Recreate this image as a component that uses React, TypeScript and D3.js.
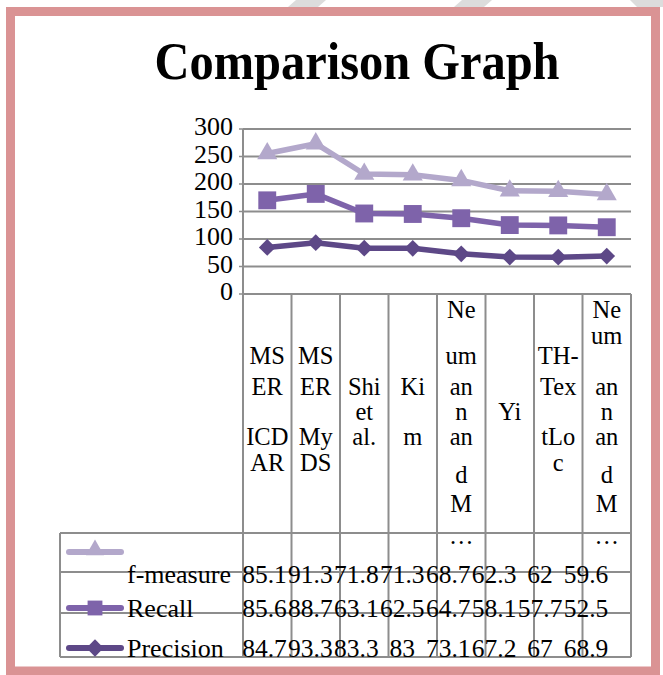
import React from "react";
import * as d3 from "d3";

// ---- data ----
const categories = ["MSER ICDAR", "MSER MyDS", "Shi et al.", "Kim", "Neumann and M…", "Yi", "TH-TextLoc", "Neumann and M…"];
const categoryLabelLines = [
  ["MS", "ER", "ICD", "AR"],
  ["MS", "ER", "My", "DS"],
  ["Shi", "et", "al."],
  ["Ki", "m"],
  ["Ne", "um", "an", "n", "an", "d", "M", "…"],
  ["Yi"],
  ["TH-", "Tex", "tLo", "c"],
  ["Ne", "um", "an", "n", "an", "d", "M", "…"],
];
const precision = [84.7, 93.3, 83.3, 83, 73.1, 67.2, 67, 68.9];
const recall = [85.6, 88.7, 63.1, 62.5, 64.7, 58.1, 57.7, 52.5];
const fmeasure = [85.1, 91.3, 71.8, 71.3, 68.7, 62.3, 62, 59.6];
const yTicks = [0, 50, 100, 150, 200, 250, 300];
const title = "Comparison Graph";

// ---- layout (not data) ----
const labelSlotBaselines = [318, 344, 364, 395, 420, 445, 471, 483, 512, 544];
const labelLineSlots = [
  [2, 3, 5, 6],
  [2, 3, 5, 6],
  [3, 4, 5],
  [3, 5],
  [0, 2, 3, 4, 5, 7, 8, 9],
  [4],
  [2, 3, 5, 6],
  [0, 1, 3, 4, 5, 7, 8, 9],
];

const W = 663;
const H = 675;
const FONT = "'Liberation Serif', 'Times New Roman', serif";
const GRID = "#8d8d8d";

const seriesDefs = [
  { key: "fmeasure", name: "f-measure", values: fmeasure, color: "#b3a8cb", symbol: "triangle", baseline: 583, legendY: 552 },
  { key: "recall", name: "Recall", values: recall, color: "#7e63aa", symbol: "square", baseline: 617, legendY: 608 },
  { key: "precision", name: "Precision", values: precision, color: "#5d4887", symbol: "diamond", baseline: 657, legendY: 648 },
];

function markerPath(kind: string, size: number) {
  if (kind === "triangle") return d3.symbol().type(d3.symbolTriangle).size(size)() as string;
  return d3.symbol().type(d3.symbolSquare).size(size)() as string;
}

export default function App() {
  const plotLeft = 243;
  const plotRight = 631;
  const y = d3.scaleLinear().domain([0, 300]).range([294, 129]);
  const idx = d3.range(categories.length);
  const x = d3.scaleBand<number>().domain(idx).range([plotLeft, plotRight]).padding(0);
  const cx = (i: number) => (x(i) as number) + x.bandwidth() / 2;
  const textX = d3.scaleBand<number>().domain(idx).range([241.5, 609]).padding(0);
  const tcx = (i: number) => (textX(i) as number) + textX.bandwidth() / 2;

  const table = idx.map((i) => ({ i, precision: precision[i], recall: recall[i], fmeasure: fmeasure[i] }));
  const stack = d3.stack<any>().keys(["precision", "recall", "fmeasure"]);
  const stacked = stack(table);
  const stackByKey: Record<string, any> = {};
  stacked.forEach((s) => (stackByKey[s.key] = s));

  const line = d3
    .line<any>()
    .x((d) => cx(d.data.i))
    .y((d) => y(d[1]));

  const tableTop = 533;
  const rowLines = [533, 572, 613, 657];
  const tableLeft = 60;
  const tableBottom = 657;

  const drawOrder = ["precision", "recall", "fmeasure"];

  return (
    <svg width={W} height={H} style={{ position: "absolute", left: 0, top: 0, background: "#fff" }} fontFamily={FONT}>
      <rect x={0} y={0} width={W} height={H} fill="#fff" />
      {/* faint watermark at top */}
      <polygon points="296,0 326,0 318,7 288,7" fill="#dcdcdc" />
      <polygon points="462,0 492,0 484,7 454,7" fill="#dcdcdc" />
      <polygon points="630,0 663,0 663,7 637,7" fill="#dcdcdc" />
      {/* pink frame */}
      <rect x={10.5} y={11.5} width={645} height={659.5} fill="none" stroke="#da9394" strokeWidth={9} />

      {/* title */}
      <text x={357} y={79} textAnchor="middle" fontSize={52} fontWeight="bold" textLength={405} lengthAdjust="spacingAndGlyphs" fill="#000">
        {title}
      </text>

      {/* gridlines */}
      {yTicks.map((t) => (
        <line key={t} x1={plotLeft} x2={plotRight} y1={y(t)} y2={y(t)} stroke={GRID} strokeWidth={2} />
      ))}
      {yTicks.map((t) => (
        <line key={"tk" + t} x1={plotLeft - 4} x2={plotLeft} y1={y(t)} y2={y(t)} stroke={GRID} strokeWidth={1.5} />
      ))}
      {yTicks.map((t) => (
        <text key={"tl" + t} x={233} y={y(t) + 6} textAnchor="end" fontSize={26} fill="#000">
          {t}
        </text>
      ))}

      {/* axis & table vertical lines */}
      <line x1={plotLeft} x2={plotLeft} y1={y(300)} y2={tableBottom} stroke={GRID} strokeWidth={2} />
      {idx.map((i) => {
        const xr = (x(i) as number) + x.bandwidth();
        return <line key={"v" + i} x1={xr} x2={xr} y1={y(0)} y2={tableBottom} stroke={GRID} strokeWidth={2} />;
      })}
      <line x1={tableLeft} x2={tableLeft} y1={tableTop} y2={tableBottom} stroke={GRID} strokeWidth={2} />
      {rowLines.map((ry) => (
        <line key={"r" + ry} x1={tableLeft} x2={plotRight} y1={ry} y2={ry} stroke={GRID} strokeWidth={2} />
      ))}

      {/* category labels */}
      {categoryLabelLines.map((lines, i) =>
        lines.map((ln, j) => (
          <text key={"c" + i + "_" + j} x={cx(i)} y={labelSlotBaselines[labelLineSlots[i][j]]} textAnchor="middle" fontSize={24.5} fill="#000">
            {ln}
          </text>
        ))
      )}

      {/* series lines & markers */}
      {drawOrder.map((k) => {
        const def = seriesDefs.find((s) => s.key === k)!;
        const s = stackByKey[k];
        const msize = def.symbol === "triangle" ? 175 : def.symbol === "square" ? 320 : 140;
        return (
          <g key={k}>
            <path d={line(s) as string} fill="none" stroke={def.color} strokeWidth={5.5} strokeLinejoin="round" />
            {s.map((d: any, i: number) => (
              <path
                key={i}
                d={markerPath(def.symbol, msize)}
                transform={`translate(${cx(d.data.i)},${y(d[1])})${def.symbol === "diamond" ? " rotate(45)" : ""}`}
                fill={def.color}
              />
            ))}
          </g>
        );
      })}

      {/* data table legend and values */}
      {seriesDefs.map((def) => {
        const msize = def.symbol === "triangle" ? 140 : def.symbol === "square" ? 220 : 150;
        return (
          <g key={"t" + def.key}>
            <line x1={69} x2={121} y1={def.legendY} y2={def.legendY} stroke={def.color} strokeWidth={6} strokeLinecap="round" />
            <path
              d={markerPath(def.symbol, msize)}
              transform={`translate(95,${def.legendY - (def.symbol === "triangle" ? 2 : 0)})${def.symbol === "diamond" ? " rotate(45)" : ""}`}
              fill={def.color}
            />
            <text x={127} y={def.baseline} fontSize={26} fill="#000">
              {def.name}
            </text>
            {def.values.map((v, i) => (
              <text key={i} x={tcx(i)} y={def.baseline} textAnchor="middle" fontSize={25.5} fill="#000">
                {String(v)}
              </text>
            ))}
          </g>
        );
      })}
    </svg>
  );
}
